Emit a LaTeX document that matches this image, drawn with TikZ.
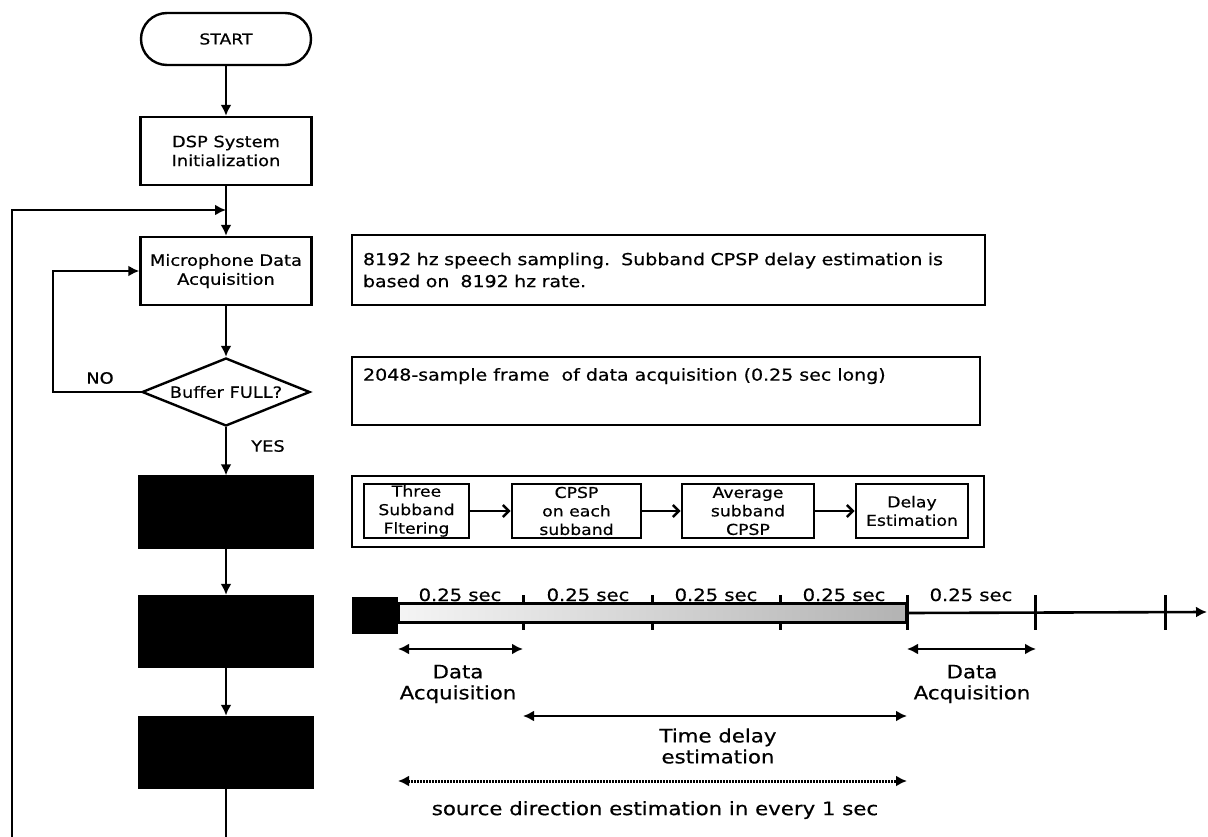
\documentclass[tikz,border=0pt]{standalone}
\usepackage{fontspec}
\setmainfont[FakeStretch=1.15,FakeBold=0.5]{DejaVu Sans}
\usetikzlibrary{shapes.geometric,arrows.meta,calc}
\begin{document}
\begin{tikzpicture}[x=1pt,y=-1pt,line width=2.4pt,
  ftxt/.style={font=\fontsize{15.5}{19}\selectfont, align=center, inner sep=0pt},
  ttxt/.style={font=\fontsize{18.5}{21}\selectfont, align=center, inner sep=0pt},
  flowbox/.style={draw, line width=2.4pt, minimum width=171pt, minimum height=68pt, align=center, font=\fontsize{15.5}{19}\selectfont, inner sep=0pt},
  blackbox/.style={draw, fill=black, minimum width=173pt, minimum height=71pt, inner sep=0pt},
  term/.style={draw, line width=2.4pt, rounded corners=26pt, minimum width=170pt, minimum height=52pt, font=\fontsize{15}{19}\selectfont, inner sep=0pt},
  decision/.style={draw, diamond, aspect=2.5, line width=2.4pt, minimum width=168pt, minimum height=68pt, inner sep=0pt, font=\fontsize{15.5}{19}\selectfont},
  notebox/.style={draw, line width=2.2pt, inner xsep=11pt, inner ysep=4pt, align=left, font=\fontsize{16.5}{22}\selectfont},
  subbox/.style={draw, line width=2.8pt, minimum height=54pt, inner sep=0pt, align=center, font=\fontsize{15}{18.5}\selectfont},
  arr/.style={-{Latex[length=11pt,width=11pt]}},
  oarr/.style={-{Straight Barb[length=6pt,width=12pt]}, line width=2.4pt},
  darr/.style={{Latex[length=11pt,width=11pt]}-{Latex[length=11pt,width=11pt]}, line width=2.6pt},
  dotarr/.style={{Latex[length=11pt,width=11pt]}-{Latex[length=11pt,width=11pt]}, line width=3pt, dash pattern=on 1.8pt off 1.2pt},
  tick/.style={line width=3pt}
]
\useasboundingbox (0,0) rectangle (1208,837);

% ---------- flowchart ----------
\node[term] (start) at (226,39) {START};
\node[flowbox] (dsp) at (226,151) {DSP System\\Initialization};
\node[flowbox] (mic) at (226,271) {Microphone Data\\Acquisition};
\node[decision] (buf) at (226,392) {Buffer FULL?};
\node[blackbox] (b1) at (226,512) {};
\node[blackbox] (b2) at (226,631.5) {};
\node[blackbox] (b3) at (226,752.5) {};
\coordinate (join) at (226,210);
\coordinate (loopbot) at (12,837);
\coordinate (flowbot) at (226,837);
\coordinate (noturn) at (53,392);

\draw[arr] (start) -- (dsp);
\draw[arr] (dsp) -- (mic);
\draw[arr] (loopbot) |- (join);
\draw[arr] (mic) -- (buf);
\draw[arr] (buf.west) -- (noturn) |- (mic.west);
\draw[arr] (buf) -- (b1);
\draw[arr] (b1) -- (b2);
\draw[arr] (b2) -- (b3);
\draw (b3) -- (flowbot);

\node[ftxt] (no) at (100,378) {NO};
\node[ftxt] (yes) at (268,446) {YES};

% ---------- notes ----------
\node[notebox, text width=611pt, minimum height=70pt] (na) at (668.5,270)
  {8192 hz speech sampling.~~Subband CPSP delay estimation is\\based on~~8192 hz rate.};
\node[draw, line width=2.2pt, minimum width=628pt, minimum height=68pt, inner sep=0pt] (nb) at (666,391) {};
\node[font=\fontsize{16.5}{20}\selectfont, inner sep=0pt, anchor=north west] (nbt) at ($(nb.north west)+(11,11)$)
  {2048-sample frame~~of data acquisition (0.25 sec long)};

% ---------- subband processing ----------
\node[draw, line width=2pt, minimum width=632pt, minimum height=71pt, inner sep=0pt] (nc) at (668,511.5) {};
\node[subbox, minimum width=105pt] (s1) at (416.5,511) {Three\\Subband\\Fltering};
\node[subbox, minimum width=129pt] (s2) at (576.5,511) {CPSP\\on each\\subband};
\node[subbox, minimum width=132pt] (s3) at (748,511) {Average\\subband\\CPSP};
\node[subbox, minimum width=112pt] (s4) at (912,511) {Delay\\Estimation};
\draw[oarr] (s1) -- (s2);
\draw[oarr] (s2) -- (s3);
\draw[oarr] (s3) -- (s4);

% ---------- timeline ----------
\node[fill=black, minimum width=46pt, minimum height=37pt, inner sep=0pt] (sq) at (375,615) {};
\node[draw, line width=3.2pt, left color=gray!8, right color=gray!60, minimum width=509pt, minimum height=19pt, inner sep=0pt] (bar) at (652.5,613) {};
\coordinate (tend) at (1207,612);
\draw[arr, line width=2.6pt] (bar.east) -- (tend);
\foreach \x in {523,652,780} {
  \draw[tick] (\x,595) -- (\x,603);
  \draw[tick] (\x,623) -- (\x,630);
}
\foreach \x in {907,1035,1165} {
  \draw[tick] (\x,595) -- (\x,630);
}
\foreach \x/\n in {460/l1,588/l2,716/l3,844/l4,971/l5} {
  \node[font=\fontsize{17}{19}\selectfont, inner sep=0pt, anchor=base] (\n) at (\x,601) {0.25 sec};
}

\coordinate (da1a) at (398,649);
\coordinate (da1b) at (523,649);
\coordinate (da2a) at (907,649);
\coordinate (da2b) at (1036,649);
\draw[darr] (da1a) -- (da1b);
\draw[darr] (da2a) -- (da2b);
\node[ttxt] (dal1) at (458,684) {Data\\Acquisition};
\node[ttxt] (dal2) at (972,684) {Data\\Acquisition};

\coordinate (tda) at (523,716);
\coordinate (tdb) at (907,716);
\draw[darr] (tda) -- (tdb);
\node[ttxt] (tdl) at (718,746) {Time delay\\estimation};

\coordinate (sda) at (398,781);
\coordinate (sdb) at (907,781);
\draw[dotarr] (sda) -- (sdb);
\node[ttxt] (sdl) at (655,810) {source direction estimation in every 1 sec};
\end{tikzpicture}
\end{document}
